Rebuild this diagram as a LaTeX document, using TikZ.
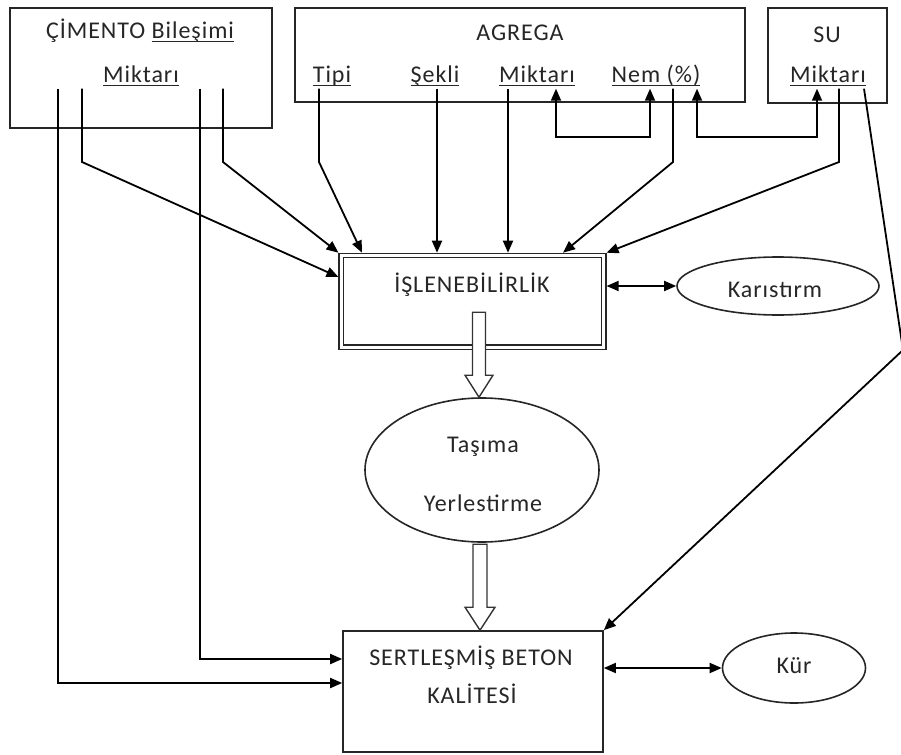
\documentclass[tikz,border=0pt]{standalone}
\usepackage{fontspec}
\setmainfont[LetterSpace=4]{Carlito}
\usetikzlibrary{arrows.meta,shapes.geometric}
\newcommand\ulword[1]{\setbox0\hbox{#1}\rlap{\rule[-4pt]{\wd0}{1.2pt}}\box0}

\begin{document}
\begin{tikzpicture}[x=1pt, y=-1pt,
	box/.style={draw=black!85, line width=1.6pt, inner sep=0pt},
	lbl/.style={inner sep=1pt, text=black!85, text height=16pt, text depth=5pt, font=\fontsize{24}{28}\selectfont},
	conn/.style={line width=1.8pt, -{Stealth[length=12pt,width=10pt,inset=0pt]}},
	both/.style={line width=1.8pt, {Stealth[length=12pt,width=10pt,inset=0pt]}-{Stealth[length=12pt,width=10pt,inset=0pt]}},
	hollow/.style={draw=black!80, line width=1.4pt, fill=white, line join=miter}]
	\useasboundingbox[fill=white] (0,0) rectangle (901,754);

	% inputs on top
	\node[box, minimum width=262pt, minimum height=120pt] (cimento) at (141,68) {};
	\node[lbl] (cimbas) at (140,33) {ÇİMENTO \ulword{Bileşimi}};
	\node[lbl] (cimmik) at (141,77) {\ulword{Miktarı}};
	\node[box, minimum width=450pt, minimum height=94pt] (agrega) at (520,55) {};
	\node[lbl] (agrbas) at (520,35) {AGREGA};
	\node[lbl] (tipi) at (332,77) {\ulword{Tipi}};
	\node[lbl] (sekli) at (435,77) {\ulword{Şekli}};
	\node[lbl] (amik) at (537,77) {\ulword{Miktarı}};
	\node[lbl] (nem) at (656,77) {\ulword{Nem (\%)}};
	\node[box, minimum width=119pt, minimum height=95pt] (su) at (827.5,55.5) {};
	\node[lbl] (subas) at (827,37) {SU};
	\node[lbl] (smik) at (828,77) {\ulword{Miktarı}};

	% workability and mixing
	\node[draw=black!85, double, double distance=3pt, line width=1.3pt, outer sep=2.8pt,
		minimum width=262.5pt, minimum height=91.5pt, inner sep=0pt] (isle) at (472.5,301.25) {};
	\node[lbl] (islelbl) at (472,287) {İŞLENEBİLİRLİK};
	\node[box, ellipse, minimum width=202pt, minimum height=58pt] (kar) at (778,286) {};
	\node[lbl] (karlbl) at (775,292) {Karıstırm};

	% transport
	\node[box, ellipse, minimum width=234pt, minimum height=144pt] (tasima) at (482,470) {};
	\node[lbl] (tasa) at (483,447) {Taşıma};
	\node[lbl] (tasb) at (483,506) {Yerlestirme};

	% hardened concrete and curing
	\node[box, minimum width=260pt, minimum height=121pt] (ser) at (473,691.5) {};
	\node[lbl] (sera) at (471,660) {SERTLEŞMİŞ BETON};
	\node[lbl] (serb) at (472,698) {KALİTESİ};
	\node[box, ellipse, minimum width=143pt, minimum height=70pt] (kur) at (794,668) {};
	\node[lbl] (kurlbl) at (794,668) {Kür};

	\draw[conn] (cimmik.south -| 82,0) -- (82,162) -- (isle.west |- 0,277);
	\draw[conn] (cimmik.south -| 223,0) -- (223,162) -- (isle.north west);
	\draw[conn] (cimmik.south -| 58,0) |- (ser.west |- 0,683);
	\draw[conn] (cimmik.south -| 200,0) |- (ser.west |- 0,659);
	\draw[conn] (tipi.south -| 319,0) -- (319,162) -- (isle.north -| 362,0);
	\draw[conn] (sekli.south -| 437,0) -- (isle.north -| 437,0);
	\draw[conn] (amik.south -| 508,0) -- (isle.north -| 508,0);
	\draw[conn] (nem.south -| 673,0) -- (673,162) -- (isle.north -| 563,0);
	\draw[conn] (smik.south -| 839,0) -- (839,162) -- (isle.north east);
	\draw[both] (amik.south -| 556,0) -- (556,137) -- (650,137) -- (nem.south -| 650,0);
	\draw[both] (nem.south -| 697,0) -- (697,137) -- (817,137) -- (smik.south -| 817,0);
	\draw[both] (isle.east |- kar.west) -- (kar.west);
	\draw[both] (ser.east |- kur.west) -- (kur.west);
	\draw[conn] (smik.south -| 864,0) -- (903,350) -- (ser.north east);

	% hollow arrows
	\draw[hollow] ([xshift=-3pt]tasima.north) -- ++(-14,-22) -- ++(7.5,0) -- ++(0,-63) -- ++(13,0) -- ++(0,63) -- ++(7.5,0) -- cycle;
	\draw[hollow] ([xshift=7pt]ser.north) -- ++(-15,-23) -- ++(8,0) -- ++(0,-63) -- ++(14,0) -- ++(0,63) -- ++(8,0) -- cycle;
\end{tikzpicture}
\end{document}
